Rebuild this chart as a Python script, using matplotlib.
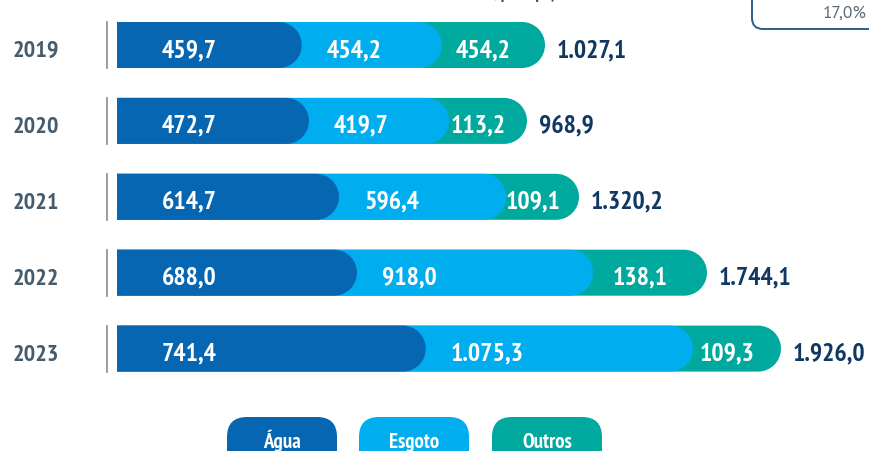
import matplotlib
matplotlib.use("Agg")
import matplotlib.pyplot as plt
from matplotlib.patches import FancyBboxPatch, PathPatch
from matplotlib.path import Path
import numpy as np

plt.rcParams['font.family'] = ['PT Sans Narrow', 'DejaVu Sans']

years = ["2019", "2020", "2021", "2022", "2023"]
agua = [459.7, 472.7, 614.7, 688.0, 741.4]
esgoto = [454.2, 419.7, 596.4, 918.0, 1075.3]
outros = [454.2, 113.2, 109.1, 138.1, 109.3]
total = [1027.1, 968.9, 1320.2, 1744.1, 1926.0]

# the source bars are not drawn to scale, so these are the lengths as drawn
agua_len = [462, 480, 555, 600, 772]
esgoto_len = [350, 350, 418, 590, 668]
outros_len = [258, 195, 182, 285, 220]

categories = ["Água", "Esgoto", "Outros"]
colors = ["#0766b1", "#00aeef", "#00a99d"]
badge_text = "17,0%"

W, H = 869, 451


def fmt(v):
    # brazilian number format: 1.075,3
    s = f"{v:,.1f}"
    return s.replace(",", "X").replace(".", ",").replace("X", ".")


def cap_bar(ax, x0, x1, yc, h, rx, color, z):
    # bar with a square left side and a round right end
    ry = h / 2
    arc = Path.arc(-90, 90)
    verts = arc.vertices * [rx, ry] + [x1 - rx, yc]
    v = [(x0, yc - ry)] + [tuple(p) for p in verts] + [(x0, yc + ry), (x0, yc - ry)]
    c = [Path.MOVETO, Path.LINETO] + list(arc.codes[1:]) + [Path.LINETO, Path.CLOSEPOLY]
    ax.add_patch(PathPatch(Path(v, c), facecolor=color, edgecolor="none", zorder=z))


fig = plt.figure(figsize=(W / 100, H / 100), dpi=100)
ax = fig.add_axes([0, 0, 1, 1])
xmin, xmax = -292.5, 1880
ax.set_xlim(xmin, xmax)
row_px = 75.9
ax.set_ylim((H - 45) / row_px, -45 / row_px)
ax.axis("off")

px_x = W / (xmax - xmin)          # pixels per x unit
bar_h = 46 / row_px
rx = 23 / px_x

for i, yr in enumerate(years):
    e1 = agua_len[i]
    e2 = e1 + esgoto_len[i]
    e3 = e2 + outros_len[i]
    cap_bar(ax, 0, e3, i, bar_h, rx, colors[2], 2)
    cap_bar(ax, 0, e2, i, bar_h, rx, colors[1], 3)
    cap_bar(ax, 0, e1, i, bar_h, rx, colors[0], 4)

    ax.plot([-10 / px_x] * 2, [i - bar_h / 2, i + bar_h / 2], color="#8a959b", lw=1.3)

    lab = dict(textcoords="offset pixels", va="baseline", fontsize=18.5,
               fontweight="bold", zorder=6)
    ax.annotate(fmt(agua[i]), (0, i), xytext=(45, -12), ha="left", color="white", **lab)
    ax.annotate(fmt(esgoto[i]), (e1, i), xytext=(25, -12), ha="left", color="white", **lab)
    ax.annotate(fmt(outros[i]), ((e2 + e3 - 20 / px_x) / 2, i), xytext=(0, -12),
                ha="center", color="white", **lab)
    ax.annotate(fmt(total[i]), (e3, i), xytext=(12, -12), ha="left", color="#113862", **lab)
    ax.annotate(yr, (0, i), xytext=(-81, -12), textcoords="offset pixels", ha="center",
                va="baseline", fontsize=17.5, fontweight="bold", color="#465b6b")

# overlay in pixel units for the decorations around the chart
ov = fig.add_axes([0, 0, 1, 1], facecolor="none")
ov.set_xlim(0, W)
ov.set_ylim(H, 0)
ov.axis("off")

ov.add_patch(FancyBboxPatch((752, -60), 200, 89, boxstyle="round,pad=0,rounding_size=11",
                            facecolor="white", edgecolor="#2d5d88", lw=1.4))
ov.text(867, 18, badge_text, ha="right", va="baseline", fontsize=12.5, color="#5d6a73",
        family=["PT Sans", "DejaVu Sans"])
ov.text(556, -1.5, "R$ milhões, por tipo)", ha="right", va="baseline", fontsize=13,
        fontweight="bold", color="#1f5c8f")

leg_x = [227, 359, 492]
for name, col, lx in zip(categories, colors, leg_x):
    ov.add_patch(FancyBboxPatch((lx, 417), 110, 70, boxstyle="round,pad=0,rounding_size=20",
                                facecolor=col, edgecolor="none"))
    ov.text(lx + 55, 448, name, ha="center", va="baseline", fontsize=15,
            fontweight="bold", color="white")

fig.savefig("out.png", dpi=100)
